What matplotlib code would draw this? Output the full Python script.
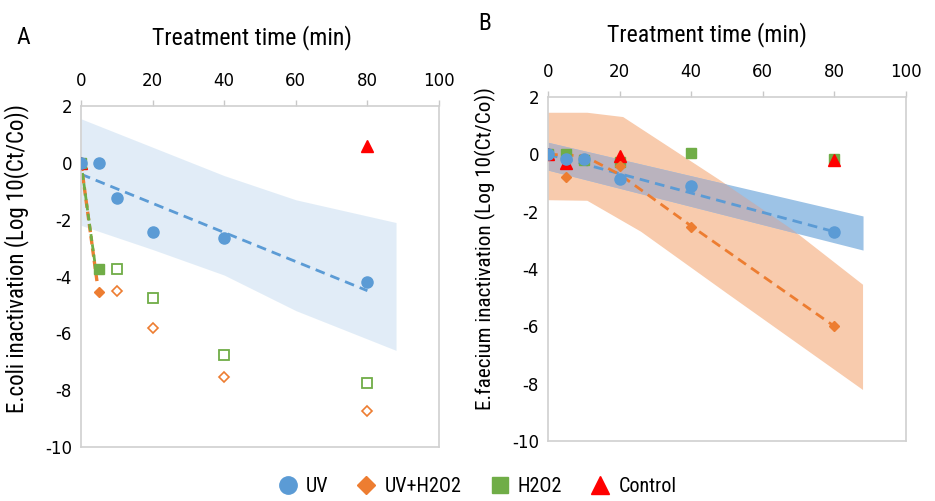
import numpy as np
import matplotlib.pyplot as plt
from matplotlib.lines import Line2D

plt.rcParams['font.family'] = ['Liberation Sans Narrow', 'Roboto Condensed',
                               'Roboto', 'DejaVu Sans']
plt.rcParams['axes.unicode_minus'] = False

# treatment times (min)
t_all = [0, 5, 10, 20, 40, 80]

# ---- panel A: E.coli ----
uv_a = [0, 0, -1.25, -2.45, -2.65, -4.2]
uvh_a_t = [0, 5]
uvh_a = [0, -4.55]
uvh_a_open_t = [10, 20, 40, 80]
uvh_a_open = [-4.5, -5.8, -7.55, -8.75]
h2o2_a_t = [0, 5]
h2o2_a = [0, -3.75]
h2o2_a_open_t = [10, 20, 40, 80]
h2o2_a_open = [-3.75, -4.75, -6.75, -7.75]
ctrl_a_t = [0, 80]
ctrl_a = [0, 0.6]

uv_fit_a_x = [0, 80]
uv_fit_a_y = [-0.4, -4.5]
uvh_fit_a_x = [0, 4.5]
uvh_fit_a_y = [0, -4.2]
h2o2_fit_a_x = [0, 4.3]
h2o2_fit_a_y = [0, -3.9]

band_a_x = [0, 20, 40, 60, 88]
band_a_hi = [1.55, 0.55, -0.45, -1.3, -2.1]
band_a_lo = [-2.2, -3.05, -3.95, -5.2, -6.6]

# ---- panel B: E.faecium ----
uv_b = [0, -0.15, -0.15, -0.85, -1.1, -2.7]
uvh_b_t = [0, 5, 20, 40, 80]
uvh_b = [0, -0.8, -0.4, -2.55, -6.0]
h2o2_b = [0, 0, -0.2, -0.25, 0.05, -0.15]
ctrl_b_t = [0, 5, 20, 80]
ctrl_b = [0, -0.3, -0.05, -0.2]

uv_fit_b_x = [0, 80]
uv_fit_b_y = [0, -2.7]
uvh_fit_b_x = [0, 10, 20, 40, 80]
uvh_fit_b_y = [0, -0.05, -0.7, -2.5, -6.0]

band_b_uv_x = [0, 88]
band_b_uv_hi = [0.42, -2.15]
band_b_uv_lo = [-0.55, -3.34]
band_b_uvh_hi_x = [0, 11, 21, 48, 68, 88]
band_b_uvh_hi = [1.45, 1.45, 1.3, -0.9, -2.6, -4.55]
band_b_uvh_lo_x = [0, 11, 26, 50, 88]
band_b_uvh_lo = [-1.6, -1.62, -2.7, -4.85, -8.22]

BLUE = '#5B9BD5'
ORANGE = '#ED7D31'
GREEN = '#70AD47'
RED = '#FF0000'
DASH = (0, (3.5, 2.2))
SHORT_DASH = (0, (2.5, 1.2))

W, H = 935, 501
fig = plt.figure(figsize=(W / 100, H / 100), dpi=100)
axA = fig.add_axes([81 / W, 1 - 447 / H, 358 / W, 341 / H])
axB = fig.add_axes([548 / W, 1 - 441 / H, 358 / W, 344 / H])


def style(ax):
    ax.set_xlim(0, 100)
    ax.set_ylim(-10, 2)
    ax.set_xticks(range(0, 101, 20))
    ax.set_yticks(range(-10, 3, 2))
    ax.xaxis.tick_top()
    ax.tick_params(axis='x', direction='out', length=4.5, width=1,
                   color='#C8C8C8', pad=7, labelsize=12)
    ax.tick_params(axis='y', length=0, pad=6.5, labelsize=12)
    for lab in ax.get_xticklabels() + ax.get_yticklabels():
        lab.set_family('DejaVu Sans')
    for sp in ax.spines.values():
        sp.set_color('#D0D0D0')
        sp.set_linewidth(1.2)


# panel A
axA.fill_between(band_a_x, band_a_lo, band_a_hi, color=BLUE, alpha=0.18,
                 lw=0, zorder=1)
axA.plot(uv_fit_a_x, uv_fit_a_y, color=BLUE, lw=2, ls=DASH, zorder=2)
axA.plot(uvh_fit_a_x, uvh_fit_a_y, color=ORANGE, lw=2.4, ls=SHORT_DASH,
         zorder=2)
axA.plot(h2o2_fit_a_x, h2o2_fit_a_y, color=GREEN, lw=2, ls=SHORT_DASH,
         zorder=2.1)
axA.plot(h2o2_a_t, h2o2_a, 's', color=GREEN, ms=7, zorder=3)
axA.plot(h2o2_a_open_t, h2o2_a_open, 's', mfc='white', mec=GREEN, mew=1.3,
         ms=7, zorder=3)
axA.plot(ctrl_a_t, ctrl_a, '^', color=RED, ms=8, zorder=2.9)
axA.plot(uvh_a_t, uvh_a, 'D', color=ORANGE, ms=5, zorder=4)
axA.plot(uvh_a_open_t, uvh_a_open, 'D', mfc='white', mec=ORANGE, mew=1.2,
         ms=5, zorder=4)
axA.plot(t_all, uv_a, 'o', color=BLUE, ms=8, zorder=5)
style(axA)

# panel B
axB.fill(np.r_[band_b_uvh_hi_x, band_b_uvh_lo_x[::-1]],
         np.r_[band_b_uvh_hi, band_b_uvh_lo[::-1]],
         color='#F8CBAD', lw=0, zorder=1)
axB.fill_between(band_b_uv_x, band_b_uv_lo, band_b_uv_hi, color='#9DC3E6',
                 lw=0, zorder=1.2)
# overlap of the two bands
gx = np.linspace(0, 88, 500)
top = np.minimum(np.interp(gx, band_b_uv_x, band_b_uv_hi),
                 np.interp(gx, band_b_uvh_hi_x, band_b_uvh_hi))
bot = np.maximum(np.interp(gx, band_b_uv_x, band_b_uv_lo),
                 np.interp(gx, band_b_uvh_lo_x, band_b_uvh_lo))
axB.fill_between(gx, bot, top, where=top > bot, color='#BAB3BE', lw=0,
                 zorder=1.4, interpolate=True)
axB.plot(uv_fit_b_x, uv_fit_b_y, color=BLUE, lw=2, ls=DASH, zorder=2)
axB.plot(uvh_fit_b_x, uvh_fit_b_y, color=ORANGE, lw=2, ls=DASH, zorder=2)
axB.plot(t_all, h2o2_b, 's', color=GREEN, ms=7.5, zorder=3)
axB.plot(ctrl_b_t, ctrl_b, '^', color=RED, ms=8, zorder=3.5)
axB.plot(uvh_b_t, uvh_b, 'D', color=ORANGE, ms=5.5, zorder=4)
axB.plot(t_all, uv_b, 'o', color=BLUE, ms=8, zorder=5)
style(axB)

# labels
fig.text(23.5 / W, 1 - 38 / H, 'A', fontsize=17, ha='center', va='center')
fig.text(485 / W, 1 - 23.5 / H, 'B', fontsize=17, ha='center', va='center')
fig.text(252 / W, 1 - 38 / H, 'Treatment time (min)', fontsize=17.2,
         ha='center', va='center')
fig.text(707 / W, 1 - 35 / H, 'Treatment time (min)', fontsize=17.2,
         ha='center', va='center')
fig.text(17 / W, 1 - 258.5 / H, 'E.coli inactivation (Log 10(Ct/Co))',
         fontsize=16.5, rotation=90, ha='center', va='center')
fig.text(485 / W, 1 - 248.5 / H, 'E.faecium inactivation (Log 10(Ct/Co))',
         fontsize=15.2, rotation=90, ha='center', va='center')

handles = [
    Line2D([], [], ls='none', marker='o', color=BLUE, ms=12.5),
    Line2D([], [], ls='none', marker='D', color=ORANGE, ms=9),
    Line2D([], [], ls='none', marker='s', color=GREEN, ms=11.5),
    Line2D([], [], ls='none', marker='^', color=RED, ms=13),
]
fig.legend(handles, ['UV', 'UV+H2O2', 'H2O2', 'Control'], loc='center',
           bbox_to_anchor=(476 / W, 1 - 487 / H), ncol=4, frameon=False,
           fontsize=14.5, handletextpad=0.3, columnspacing=1.3,
           handlelength=1.2)

fig.savefig('out.png', dpi=100)
